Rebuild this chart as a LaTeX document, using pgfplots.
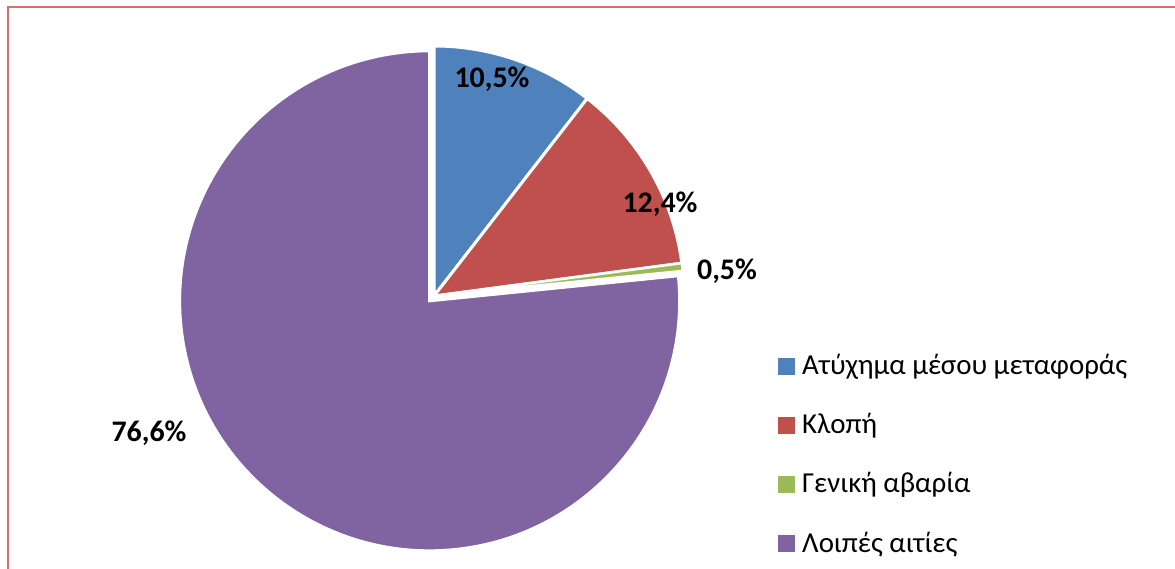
\documentclass[border=0pt]{standalone}
\usepackage{pgfplots}
\pgfplotsset{compat=1.18}
\usepackage{pgfplotstable}
\usepackage{fontspec}
\setmainfont{Carlito}
\definecolor{pblue}{RGB}{79,129,189}
\definecolor{pred}{RGB}{192,80,77}
\definecolor{pgreen}{RGB}{155,187,89}
\definecolor{ppurple}{RGB}{128,100,162}
\definecolor{pborder}{RGB}{214,112,112}
\pgfplotstableread[col sep=comma]{
label,value
A,10.5
B,12.4
C,0.5
D,76.6
}\piedata
\begin{document}%
\begin{tikzpicture}
\pgfplotstablegetelem{0}{value}\of\piedata \let\vA\pgfplotsretval
\pgfplotstablegetelem{1}{value}\of\piedata \let\vB\pgfplotsretval
\pgfplotstablegetelem{2}{value}\of\piedata \let\vC\pgfplotsretval
\pgfplotstablegetelem{3}{value}\of\piedata \let\vD\pgfplotsretval
\pgfmathsetmacro\aA{90-3.6*\vA}
\pgfmathsetmacro\aB{\aA-3.6*\vB}
\pgfmathsetmacro\aC{\aB-3.6*\vC}
\pgfmathsetmacro\aD{\aC-3.6*\vD}
\pgfmathsetmacro\mD{(\aC+\aD)/2}
\pgfmathsetmacro\cDx{434+6.5*cos(\mD)}
\pgfmathsetmacro\cDy{273+6.5*sin(\mD)}
\begin{axis}[x=1bp,y=1bp,xmin=0,xmax=1175,ymin=0,ymax=569,
  hide axis,scale only axis,clip=false]
\coordinate (BL) at (axis cs:0,0);
\coordinate (TR) at (axis cs:1175,569);
\fill[ppurple,draw=white,line width=3bp] (axis cs:\cDx,\cDy) -- ++(\aC:250bp) arc[start angle=\aC,end angle=\aD,radius=250bp] -- cycle;
\fill[pblue,draw=white,line width=3bp] (axis cs:434,273) -- ++(90:250bp) arc[start angle=90,end angle=\aA,radius=250bp] -- cycle;
\fill[pred,draw=white,line width=3bp] (axis cs:434,273) -- ++(\aA:250bp) arc[start angle=\aA,end angle=\aB,radius=250bp] -- cycle;
\fill[pgreen,draw=white,line width=2.5bp] (axis cs:434,273) -- ++(\aB:250bp) arc[start angle=\aB,end angle=\aC,radius=250bp] -- cycle;
\begin{scope}[every node/.style={font=\fontsize{30}{36}\selectfont\bfseries,anchor=base,inner sep=0pt}]
\node at (axis cs:492,481) {10,5\%};
\node at (axis cs:660,356) {12,4\%};
\node at (axis cs:727,289) {0,5\%};
\node at (axis cs:149,127) {76,6\%};
\end{scope}
% legend
\fill[pblue] (axis cs:778,194) rectangle (axis cs:795,211);
\fill[pred] (axis cs:778,135) rectangle (axis cs:795,152);
\fill[pgreen] (axis cs:778,76) rectangle (axis cs:795,93);
\fill[ppurple] (axis cs:778,17) rectangle (axis cs:795,34);
\begin{scope}[every node/.style={font=\fontsize{29}{34}\selectfont,anchor=base west,inner sep=0pt}]
\node at (axis cs:802,194) {Ατύχημα μέσου μεταφοράς};
\node at (axis cs:802,135) {Κλοπή};
\node at (axis cs:802,76) {Γενική αβαρία};
\node at (axis cs:802,16) {Λοιπές αιτίες};
\end{scope}
\draw[pborder,line width=2bp] (axis cs:1175,561.5) -- (axis cs:7.5,561.5) -- (axis cs:7.5,0);
\end{axis}
\pgfresetboundingbox
\useasboundingbox (BL) rectangle (TR);
\end{tikzpicture}%
\end{document}
